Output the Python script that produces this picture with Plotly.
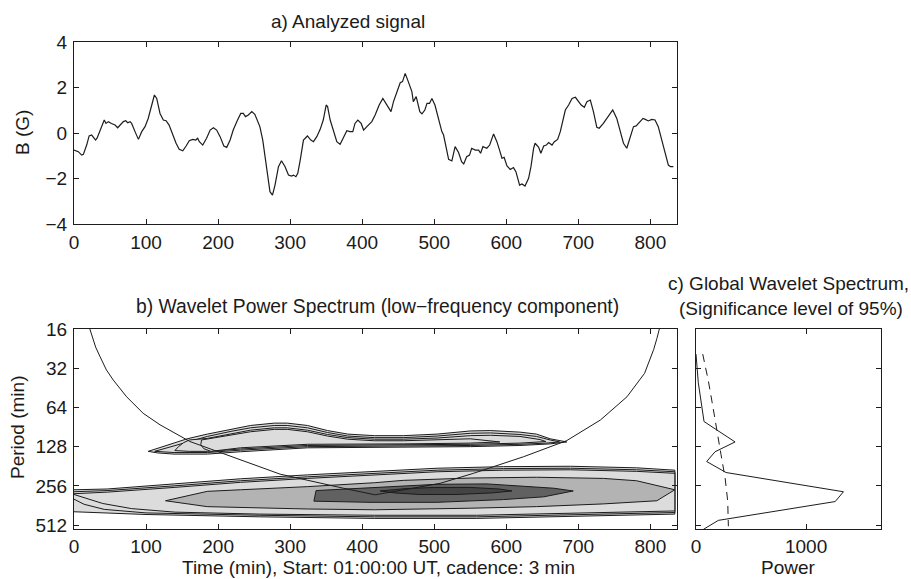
import numpy as np
import plotly.graph_objects as go

W, H = 911, 579
FONT = "Liberation Sans, Arial, sans-serif"
FS = 19

# ---------------- a) analyzed signal ----------------
time_min = [0, 6, 10.6, 13, 17.6, 21, 24.5, 27, 30, 32, 36, 39, 42, 44.4, 47.7, 52, 57, 60.6, 64, 68.5,
            71.8, 74.5, 77.8, 80, 84.7, 89.4, 94, 98.6, 103, 108, 111.6, 114.8, 119.4, 124, 127.8, 132,
            137, 141.7, 146, 151, 155.6, 160, 164.8, 169, 171.7, 174, 178.7, 184, 189, 193.5, 198, 202.8,
            208, 212, 216.7, 221, 227, 231.5, 235, 238, 242, 246.8, 251, 258, 262, 265, 268.5, 272, 275.5,
            279, 283.8, 288, 293, 297.7, 302, 304.6, 308, 310.6, 314, 318.5, 324, 328.7, 332.4, 337, 341.7,
            346, 350, 352, 355.6, 360, 364.8, 369.4, 374, 378.7, 383, 387, 390, 394, 398.6, 402, 406.5,
            413.4, 418, 423.6, 428.7, 434, 440, 443.5, 449, 452.8, 456, 459.7, 464, 469, 471, 475, 480,
            483, 487, 490, 493.5, 496.8, 501, 506, 510.6, 513, 516.7, 520, 524.5, 529, 533.8, 538, 541,
            545, 549, 552, 557, 561.6, 564.4, 567.6, 573, 577, 582.4, 587, 590.7, 594, 597, 601, 605.6,
            610, 613.4, 618.5, 621.8, 626, 631, 634.3, 638, 640, 645, 648, 652, 655.6, 658.8, 663.5,
            666.8, 671.3, 675, 678.7, 682, 686.6, 691.3, 696, 700.6, 704, 708.4, 712, 716.7, 721, 725.7,
            729, 734.8, 741.8, 747.8, 753.4, 758, 762.7, 767.3, 772, 776.6, 780.3, 786, 789.8, 793, 797.2,
            801.9, 806.5, 811, 815.7, 820, 825, 828, 832]
b_gauss = [-0.75, -0.82, -0.97, -0.94, -0.53, -0.13, -0.09, -0.19, -0.31, -0.23, 0.13, 0.35, 0.57, 0.42,
           0.5, 0.42, 0.35, 0.23, 0.35, 0.5, 0.54, 0.45, 0.5, 0.42, 0.06, -0.28, 0.06, 0.28, 0.64, 1.3,
           1.67, 1.52, 0.86, 0.57, 0.54, 0.35, -0.09, -0.45, -0.72, -0.78, -0.57, -0.34, -0.28, -0.31,
           -0.23, -0.38, -0.53, -0.23, 0.13, 0.23, 0.13, -0.16, -0.57, -0.63, -0.31, 0.13, 0.57, 0.86,
           0.86, 0.72, 0.79, 0.94, 0.82, 0.28, -0.31, -1.04, -1.85, -2.58, -2.73, -2.29, -1.48, -1.22,
           -1.48, -1.85, -1.89, -1.85, -1.92, -1.77, -1.19, -0.31, -0.13, -0.31, -0.38, -0.16, 0.16, 0.57,
           1.23, 1.16, 0.57, 0.13, -0.38, -0.5, -0.23, 0.1, 0.06, 0.06, 0.42, 0.57, 0.42, 0.13, 0.28, 0.5,
           0.79, 1.23, 1.52, 1.23, 0.94, 1.38, 1.82, 2.21, 2.26, 2.62, 2.26, 1.82, 1.38, 1.6, 0.94, 0.84,
           1.01, 1.3, 1.3, 1.52, 1.23, 0.64, 0.06, -0.09, -0.75, -1.16, -1.23, -0.6, -0.86, -1.26, -1.36,
           -1.04, -0.97, -0.67, -0.75, -0.75, -0.89, -0.6, -0.67, -0.53, -0.04, -0.38, -0.75, -1.11, -1.07,
           -1.45, -1.6, -1.52, -1.7, -2.29, -2.24, -2.33, -1.99, -1.48, -0.67, -0.45, -0.63, -0.89, -0.57,
           -0.53, -0.42, -0.53, -0.38, -0.28, 0.06, 0.57, 1.01, 1.23, 1.52, 1.57, 1.38, 1.23, 1.13, 1.38,
           1.45, 0.94, 0.25, 0.21, 0.42, 0.72, 1.01, 0.64, 0.13, -0.45, -0.67, -0.23, 0.28, 0.31, 0.5,
           0.64, 0.6, 0.53, 0.6, 0.57, 0.28, -0.31, -0.89, -1.41, -1.48, -1.48]

# ---------------- b) wavelet power spectrum: contour boundaries ----------------
# (time in min, log2 of period in min)
hi_l1_t = [103, 134, 157, 185, 218, 245, 278, 296, 324, 352, 380, 417, 457, 504, 550, 578, 619, 642, 661, 684,
           661, 619, 550, 457, 411, 324, 231, 185, 139, 116, 103]
hi_l1_lp = [7.12, 6.93, 6.80, 6.68, 6.55, 6.46, 6.40, 6.40, 6.46, 6.59, 6.68, 6.72, 6.72, 6.68, 6.60, 6.59, 6.63,
            6.68, 6.80, 6.88, 6.93, 6.97, 7.00, 7.02, 7.02, 7.03, 7.13, 7.19, 7.19, 7.16, 7.12]
hi_l2_t = [112, 140, 160, 185, 218, 245, 278, 296, 324, 352, 380, 417, 457, 504, 550, 578, 619, 642, 661, 674,
           655, 619, 550, 457, 324, 231, 185, 139, 120, 112]
hi_l2_lp = [7.12, 6.97, 6.86, 6.74, 6.61, 6.52, 6.46, 6.46, 6.52, 6.64, 6.73, 6.77, 6.77, 6.73, 6.66, 6.65, 6.69,
            6.74, 6.83, 6.88, 6.91, 6.94, 6.97, 6.99, 7.00, 7.09, 7.15, 7.15, 7.13, 7.12]
hi_l3_t = [140, 145, 152, 160, 185, 218, 245, 278, 296, 324, 352, 380, 417, 457, 504, 550, 578, 619, 647, 655,
           619, 550, 457, 324, 231, 185, 160, 140]
hi_l3_lp = [7.10, 7.00, 6.90, 6.83, 6.79, 6.67, 6.58, 6.52, 6.52, 6.58, 6.69, 6.77, 6.81, 6.81, 6.78, 6.72, 6.71,
            6.74, 6.82, 6.87, 6.91, 6.94, 6.96, 6.97, 7.06, 7.12, 7.12, 7.10]
hi_l4_t = [177, 218, 245, 278, 296, 324, 352, 380, 417, 457, 504, 550, 591, 550, 457, 324, 231, 190, 180, 176, 177]
hi_l4_lp = [6.83, 6.71, 6.62, 6.56, 6.56, 6.62, 6.73, 6.81, 6.85, 6.85, 6.83, 6.80, 6.88, 6.91, 6.93, 6.94, 7.03,
            7.12, 7.05, 6.95, 6.83]

lo_l1_t = [0, 46, 139, 231, 324, 417, 504, 596, 689, 781, 834, 834, 760, 647, 559, 417, 258, 100, 0]
lo_l1_lp = [8.10, 8.08, 7.95, 7.82, 7.72, 7.64, 7.55, 7.51, 7.50, 7.54, 7.60, 8.72, 8.75, 8.79, 8.83, 8.83,
            8.79, 8.73, 8.66]
lo_l2_t = [0, 46, 139, 231, 324, 417, 504, 596, 689, 781, 834, 834, 760, 647, 559, 417, 258, 100, 42, 14, 0]
lo_l2_lp = [8.15, 8.12, 8.00, 7.87, 7.77, 7.69, 7.60, 7.56, 7.55, 7.59, 7.64, 8.68, 8.71, 8.75, 8.79, 8.79,
            8.75, 8.69, 8.60, 8.47, 8.34]
lo_l3_t = [0, 46, 139, 231, 324, 417, 504, 596, 689, 781, 834, 834, 760, 647, 559, 417, 258, 140, 80, 40, 15, 0]
lo_l3_lp = [8.20, 8.16, 8.04, 7.91, 7.81, 7.73, 7.64, 7.60, 7.59, 7.63, 7.68, 8.64, 8.67, 8.71, 8.75, 8.75,
            8.72, 8.67, 8.58, 8.45, 8.30, 8.22]
lo_mid_t = [127, 185, 231, 324, 417, 457, 550, 642, 735, 781, 834, 809, 735, 642, 550, 417, 324, 231, 185, 127]
lo_mid_lp = [8.38, 8.14, 8.10, 8.02, 7.92, 7.86, 7.80, 7.78, 7.81, 7.87, 8.10, 8.38, 8.46, 8.53, 8.57, 8.61,
             8.59, 8.56, 8.53, 8.38]
lo_dark_t = [336, 417, 504, 573, 619, 666, 693, 652, 596, 504, 411, 333, 336]
lo_dark_lp = [8.12, 8.04, 7.96, 7.95, 8.00, 8.06, 8.13, 8.28, 8.35, 8.42, 8.42, 8.39, 8.12]
lo_peak_t = [425, 460, 500, 550, 590, 608, 580, 530, 480, 445, 425]
lo_peak_lp = [8.13, 8.07, 8.04, 8.04, 8.08, 8.13, 8.18, 8.22, 8.22, 8.18, 8.13]

# cone of influence (time, period in min)
coi_t = [22, 25, 30, 36, 45, 54.6, 73, 96, 119.4, 161, 212, 286, 374, 418,
         508, 554.6, 624, 684, 730.6, 767.6, 792, 804.6, 809, 812.5]
coi_period = [16, 18, 22, 26, 33, 39.5, 53, 71, 87, 117, 148, 208, 267, 300,
              245, 205, 153, 115, 80, 53, 35, 23, 19, 16]

# ---------------- c) global wavelet spectrum ----------------
gws_power = [0, 21, 73, 355, 173, 97, 273, 1339, 1264, 203, 67]
gws_log2_period = [4.64, 5.37, 6.36, 6.88, 7.13, 7.38, 7.66, 8.15, 8.40, 8.88, 9.11]
sig_power = [61, 112, 152, 188, 227, 264, 288, 294]
sig_log2_period = [4.64, 5.32, 5.96, 6.60, 7.20, 7.79, 8.39, 9.03]

period_ticks = [16, 32, 64, 128, 256, 512]
time_ticks = [0, 100, 200, 300, 400, 500, 600, 700, 800]

LINE = "#1c1c1c"
C_LIGHT, C_MID, C_DARK, C_PEAK = "#dcdcdc", "#b3b3b3", "#616161", "#444444"

fig = go.Figure()

# signal
fig.add_trace(go.Scatter(x=time_min, y=b_gauss, mode="lines", line=dict(color=LINE, width=1.2),
                         xaxis="x", yaxis="y", showlegend=False, hoverinfo="skip"))


def region(t, lp, fill):
    fig.add_trace(go.Scatter(x=t, y=[2.0 ** v for v in lp], mode="lines", fill="toself",
                             fillcolor=fill, line=dict(color=LINE, width=1),
                             xaxis="x2", yaxis="y2", showlegend=False, hoverinfo="skip"))


region(lo_l1_t, lo_l1_lp, C_LIGHT)
region(lo_l2_t, lo_l2_lp, C_LIGHT)
region(lo_l3_t, lo_l3_lp, C_LIGHT)
region(lo_mid_t, lo_mid_lp, C_MID)
region(lo_dark_t, lo_dark_lp, C_DARK)
region(lo_peak_t, lo_peak_lp, C_PEAK)
region(hi_l1_t, hi_l1_lp, C_LIGHT)
region(hi_l2_t, hi_l2_lp, C_LIGHT)
region(hi_l3_t, hi_l3_lp, C_LIGHT)
region(hi_l4_t, hi_l4_lp, C_LIGHT)

fig.add_trace(go.Scatter(x=coi_t, y=coi_period, mode="lines", line=dict(color=LINE, width=1),
                         xaxis="x2", yaxis="y2", showlegend=False, hoverinfo="skip"))

# global spectrum
fig.add_trace(go.Scatter(x=gws_power, y=[2.0 ** v for v in gws_log2_period], mode="lines",
                         line=dict(color=LINE, width=1), xaxis="x3", yaxis="y3",
                         showlegend=False, hoverinfo="skip"))
fig.add_trace(go.Scatter(x=sig_power, y=[2.0 ** v for v in sig_log2_period], mode="lines",
                         line=dict(color=LINE, width=1, dash="8px,6px"), xaxis="x3", yaxis="y3",
                         showlegend=False, hoverinfo="skip"))


def px_x(X):
    return X / W


def px_y(Y):
    return 1 - Y / H


common = dict(showline=True, linecolor=LINE, linewidth=1, mirror="ticks", ticks="inside",
              ticklen=5, tickcolor=LINE, tickwidth=1, showgrid=False, zeroline=False,
              automargin=False,
              tickfont=dict(family=FONT, size=FS, color="#1a1a1a"))

x_dom = [px_x(74), px_x(677)]
x3_dom = [px_x(696), px_x(881)]
ytop_dom = [px_y(224), px_y(42)]
ybot_dom = [px_y(529), px_y(329)]
log_range = [np.log10(2 ** 9.1), np.log10(16)]

fig.update_layout(
    template="none",
    width=W, height=H, margin=dict(l=0, r=0, t=0, b=0, pad=0), autosize=False,
    paper_bgcolor="white", plot_bgcolor="white",
    xaxis=dict(domain=x_dom, range=[0, 837], tickvals=time_ticks, anchor="y",
               ticklabelstandoff=1, **common),
    yaxis=dict(domain=ytop_dom, range=[-4, 4], tickvals=[-4, -2, 0, 2, 4], anchor="x",
               ticklabelstandoff=2, **common),
    xaxis2=dict(domain=x_dom, range=[0, 837], tickvals=time_ticks, anchor="y2",
                ticklabelstandoff=0, **common),
    yaxis2=dict(domain=ybot_dom, type="log", range=log_range, tickvals=period_ticks,
                ticktext=[str(v) for v in period_ticks], anchor="x2", ticklabelstandoff=2, **common),
    xaxis3=dict(domain=x3_dom, range=[0, 1680], tickvals=[0, 1000], anchor="y3",
                ticklabelstandoff=0, **common),
    yaxis3=dict(domain=ybot_dom, type="log", range=log_range, tickvals=period_ticks,
                showticklabels=False, anchor="x3", **common),
)


def label(text, X, Y, angle=0, size=FS):
    fig.add_annotation(text=text, x=px_x(X), y=px_y(Y), xref="paper", yref="paper",
                       xanchor="center", yanchor="middle", showarrow=False, textangle=angle,
                       borderpad=0, font=dict(family=FONT, size=size, color="#1a1a1a"))


label("a) Analyzed signal", 348, 21)
label("B (G)", 22, 133, -90)
label("b) Wavelet Power Spectrum (low\u2212frequency component)", 377, 306.5, size=19.3)
label("c) Global Wavelet Spectrum,", 788, 283.5)
label("(Significance level of 95%)", 791, 308.5)
label("Period (min)", 17, 428, -90)
label("Time (min), Start: 01:00:00 UT, cadence: 3 min", 378, 567.5)
label("Power", 788, 567.5)

fig.write_html("out.html", config={"displayModeBar": False},
               post_script="document.body.style.margin='0';")
